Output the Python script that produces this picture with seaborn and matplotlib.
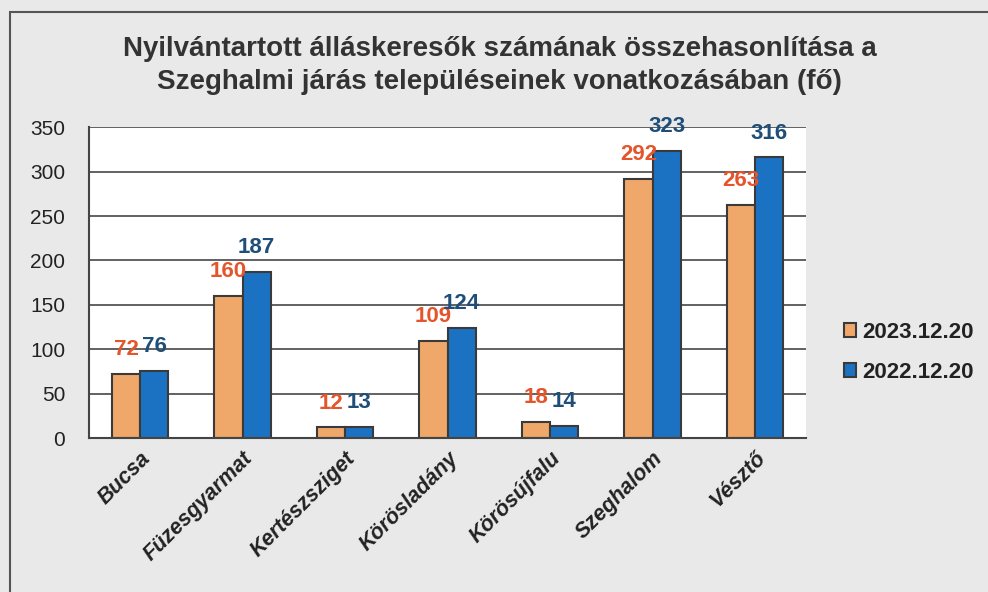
import pandas as pd
import seaborn as sns
import matplotlib.pyplot as plt
from matplotlib.patches import Rectangle

# data
telepulesek = ['Bucsa', 'Füzesgyarmat', 'Kertészsziget', 'Körösladány',
               'Körösújfalu', 'Szeghalom', 'Vésztő']
ertek_2023 = [72, 160, 12, 109, 18, 292, 263]
ertek_2022 = [76, 187, 13, 124, 14, 323, 316]
sorozatok = ['2023.12.20', '2022.12.20']
y_ticks = [0, 50, 100, 150, 200, 250, 300, 350]

cim = ('Nyilvántartott álláskeresők számának összehasonlítása a\n'
       'Szeghalmi járás településeinek vonatkozásában (fő)')

bar_colors = ['#F0A86A', '#1B72C3']
label_colors = ['#E4552C', '#1F4E79']

df = pd.DataFrame({
    'telepules': telepulesek * 2,
    'fo': ertek_2023 + ertek_2022,
    'idopont': [sorozatok[0]] * len(telepulesek) + [sorozatok[1]] * len(telepulesek),
})

sns.set_style('white')
plt.rcParams['font.family'] = ['Liberation Sans', 'DejaVu Sans']

fig = plt.figure(figsize=(9.88, 5.92), dpi=100)
fig.patch.set_facecolor('#e9e9e9')
ax = fig.add_axes([0.090, 0.260, 0.726, 0.525])
ax.set_facecolor('white')

sns.barplot(data=df, x='telepules', y='fo', hue='idopont', hue_order=sorozatok,
            palette=bar_colors, saturation=1, width=0.55, edgecolor='#3a3a3a',
            linewidth=1.5, ax=ax, legend=True)

# value labels
for cont, col in zip(ax.containers, label_colors):
    ax.bar_label(cont, padding=10, color=col, fontsize=16, fontweight='bold')

ax.set_ylim(0, 350)
ax.set_yticks(y_ticks)
ax.yaxis.grid(True, color='#555555', linewidth=1.3)
ax.set_axisbelow(True)
ax.set_xlabel('')
ax.set_ylabel('')
for s in ['top', 'right']:
    ax.spines[s].set_visible(False)
for s in ['left', 'bottom']:
    ax.spines[s].set_color('#444444')
    ax.spines[s].set_linewidth(1.5)

ax.tick_params(axis='y', length=0, pad=17, labelsize=15, labelcolor='#222222')
ax.tick_params(axis='x', length=0, pad=7)
for lbl in ax.get_xticklabels():
    lbl.set_rotation(45)
    lbl.set_ha('right')
    lbl.set_rotation_mode('anchor')
    lbl.set_fontweight('bold')
    lbl.set_fontstyle('italic')
    lbl.set_fontsize(15.5)
    lbl.set_color('#222222')

handles, labels = ax.get_legend_handles_labels()
ax.legend_.remove()
fig.legend(handles, labels, loc='center left', bbox_to_anchor=(0.834, 0.405),
           frameon=False, prop={'weight': 'bold', 'size': 16},
           handlelength=0.55, handleheight=0.55, handletextpad=0.25,
           labelspacing=0.85, labelcolor='#222222')

fig.text(0.506, 0.890, cim, ha='center', va='center', fontsize=20,
         fontweight='bold', color='#333333', linespacing=1.35)

# outer chart frame
fig.patches.append(Rectangle((0.010, -0.02), 1.0, 1.0,
                             transform=fig.transFigure, fill=False,
                             edgecolor='#555555', linewidth=1.5))

fig.savefig('out.png', dpi=100, facecolor=fig.get_facecolor())
